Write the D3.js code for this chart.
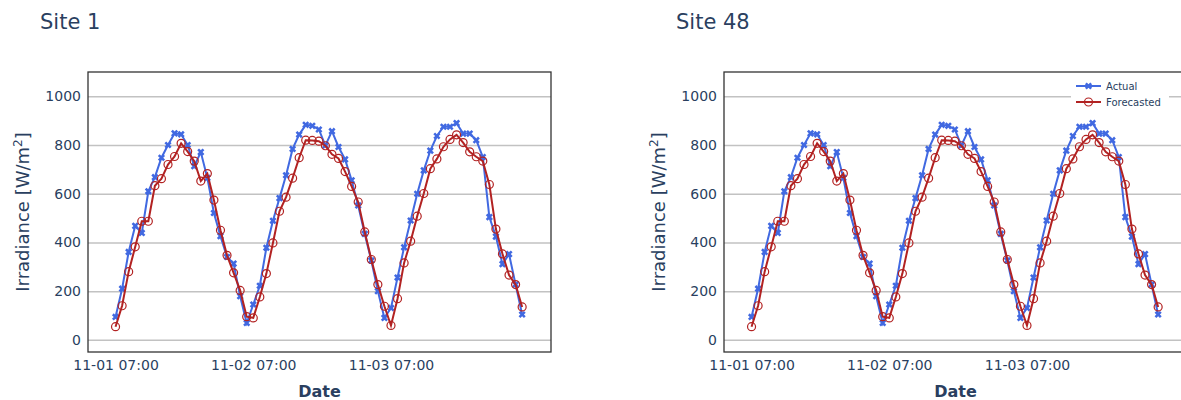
<!DOCTYPE html>
<html>
<head>
<meta charset="utf-8">
<script src="https://cdn.jsdelivr.net/npm/d3@7"></script>
<style>
  body { margin: 0; background: #fff; }
  svg text { font-family: "DejaVu Sans", Verdana, sans-serif; fill: #2a3f5f; }
</style>
</head>
<body>
<div id="chart"></div>
<script>
"use strict";

// data
var siteNames = ["Site 1", "Site 48"];
var dayLabels = ["11-01 07:00", "11-02 07:00", "11-03 07:00"];
var pointsPerDay = 21;
var yTicks = [0, 200, 400, 600, 800, 1000];

var actual = [
    94, 210, 361, 468, 439, 610, 668, 748, 800, 848,
    844, 800, 713, 771, 665, 521, 426, 340, 313, 179,
    69, 145, 222, 378, 489, 582, 676, 784, 843, 883,
    879, 864, 798, 857, 792, 741, 655, 552, 435, 326,
    200, 90, 131, 256, 380, 490, 600, 696, 777, 837,
    875, 875, 890, 847, 847, 820, 751, 504, 424, 311,
    352, 227, 104
];

var forecast = [
    54, 140, 280, 382, 487, 487, 633, 662, 720, 753,
    807, 773, 734, 652, 683, 574, 450, 347, 275, 203,
    95, 90, 176, 272, 398, 528, 586, 664, 748, 820,
    819, 816, 797, 762, 745, 691, 630, 566, 443, 330,
    227, 138, 59, 169, 316, 405, 508, 601, 703, 743,
    793, 823, 842, 810, 772, 752, 734, 638, 455, 353,
    266, 227, 135
];

// dimensions
var W = 1181, H = 400;
var panelLeft = [88, 724];
var plotTop = 72, plotW = 463, plotH = 280;

var blue = "#4169e1";
var red = "#b22222";

var svg = d3.select("#chart")
    .append("svg")
    .attr("width", W)
    .attr("height", H);

// scales
var x = d3.scaleLinear()
    .domain([-4.2, 66.4])
    .range([0, plotW]);

var y = d3.scaleLinear()
    .domain([-50, 1100])
    .range([plotH, 0]);

var line = d3.line()
    .x((d, i) => x(i))
    .y(d => y(d));

var xMarker = d3.symbol().type(d3.symbolCross).size(32);

function drawActualMarkers(sel, data) {
    sel.selectAll("path.xm")
        .data(data)
        .join("path")
        .attr("class", "xm")
        .attr("d", xMarker)
        .attr("transform", (d, i) => `translate(${x(i)},${y(d)}) rotate(45)`)
        .attr("fill", blue);
}

function drawForecastMarkers(sel, data) {
    sel.selectAll("circle")
        .data(data)
        .join("circle")
        .attr("cx", (d, i) => x(i))
        .attr("cy", d => y(d))
        .attr("r", 4)
        .attr("fill", "none")
        .attr("stroke", red)
        .attr("stroke-width", 1.2);
}

siteNames.forEach(function (name, k) {

    var g = svg.append("g")
        .attr("transform", `translate(${panelLeft[k]},${plotTop})`);

    // grid lines
    g.append("g")
        .call(d3.axisLeft(y).tickValues(yTicks).tickSize(-plotW).tickFormat(""))
        .call(a => a.select(".domain").remove())
        .selectAll("line")
        .attr("stroke", "#c2c2c2")
        .attr("stroke-width", 1.5);

    // y tick labels
    g.append("g")
        .call(d3.axisLeft(y).tickValues(yTicks).tickFormat(d3.format("d")).tickSize(0).tickPadding(7))
        .call(a => a.select(".domain").remove())
        .selectAll("text")
        .style("font-size", "14px");

    // x tick labels
    g.append("g")
        .attr("transform", `translate(0,${plotH})`)
        .call(d3.axisBottom(x)
            .tickValues(dayLabels.map((d, i) => i * pointsPerDay))
            .tickFormat((d, i) => dayLabels[i])
            .tickSize(0)
            .tickPadding(8))
        .call(a => a.select(".domain").remove())
        .selectAll("text")
        .style("font-size", "14px");

    // series
    g.append("path")
        .datum(actual)
        .attr("fill", "none")
        .attr("stroke", blue)
        .attr("stroke-width", 2)
        .attr("d", line);
    drawActualMarkers(g.append("g"), actual);

    g.append("path")
        .datum(forecast)
        .attr("fill", "none")
        .attr("stroke", red)
        .attr("stroke-width", 2)
        .attr("d", line);
    drawForecastMarkers(g.append("g"), forecast);

    // frame
    g.append("rect")
        .attr("width", plotW)
        .attr("height", plotH)
        .attr("fill", "none")
        .attr("stroke", "#333")
        .attr("stroke-width", 1.3);

    // titles
    svg.append("text")
        .attr("x", panelLeft[k] - 48)
        .attr("y", 29)
        .style("font-size", "21px")
        .text(name);

    var yt = svg.append("text")
        .attr("transform", `translate(${panelLeft[k] - 59},${plotTop + plotH / 2}) rotate(-90)`)
        .attr("text-anchor", "middle")
        .style("font-size", "18px");
    yt.append("tspan").text("Irradiance [W/m");
    yt.append("tspan").attr("baseline-shift", "super").style("font-size", "12px").text("2");
    yt.append("tspan").text("]");

    svg.append("text")
        .attr("x", panelLeft[k] + plotW / 2)
        .attr("y", 397)
        .attr("text-anchor", "middle")
        .style("font-size", "16px")
        .style("font-weight", "bold")
        .text("Date");
});

// legend (second panel only)
var legend = svg.append("g");
legend.append("rect")
    .attr("x", 1071)
    .attr("y", 75)
    .attr("width", 98)
    .attr("height", 36)
    .attr("fill", "#fff");

var legendItems = [
    { label: "Actual", color: blue, cy: 86 },
    { label: "Forecasted", color: red, cy: 102 }
];

legendItems.forEach(function (d, i) {
    legend.append("line")
        .attr("x1", 1076).attr("x2", 1101)
        .attr("y1", d.cy).attr("y2", d.cy)
        .attr("stroke", d.color)
        .attr("stroke-width", 2);
    if (i === 0) {
        legend.append("path")
            .attr("d", xMarker)
            .attr("transform", `translate(1088.5,${d.cy}) rotate(45)`)
            .attr("fill", blue);
    } else {
        legend.append("circle")
            .attr("cx", 1088.5).attr("cy", d.cy).attr("r", 4)
            .attr("fill", "none")
            .attr("stroke", red)
            .attr("stroke-width", 1.2);
    }
    legend.append("text")
        .attr("x", 1106)
        .attr("y", d.cy + 3.5)
        .style("font-size", "10px")
        .text(d.label);
});
</script>
</body>
</html>
